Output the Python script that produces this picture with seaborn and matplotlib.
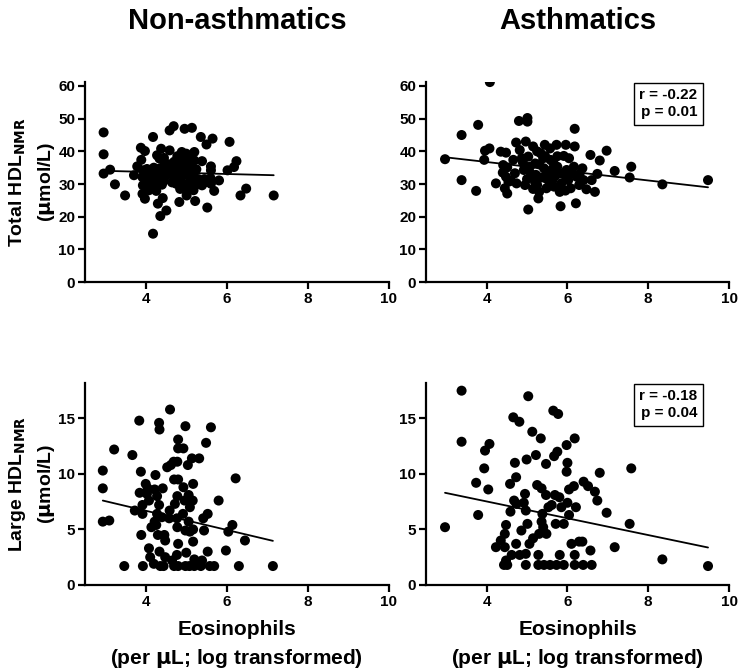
import numpy as np
import pandas as pd
import seaborn as sns
import matplotlib.pyplot as plt
import matplotlib as mpl
mpl.use("Agg")

# --- data ---
# Non-asthmatics, total HDL
non_total_eos = [2.96, 2.96, 2.96, 3.12, 3.24, 3.49, 3.71, 3.79, 3.88, 3.98, 3.89, 3.93, 3.92, 4.03,
                 4.00, 4.06, 3.93, 3.92, 3.98, 4.18, 4.18, 4.30, 4.36, 4.51, 4.42, 4.28, 4.38, 4.34,
                 4.46, 4.16, 4.22, 4.28, 4.14, 4.08, 4.26, 4.34, 4.42, 4.51, 4.59, 4.59, 4.69, 4.63,
                 4.67, 4.75, 4.83, 4.89, 4.90, 4.93, 4.92, 4.87, 4.96, 5.00, 5.01, 4.96, 5.14, 5.00,
                 5.08, 5.12, 5.16, 5.12, 5.08, 5.20, 5.20, 5.20, 5.22, 5.22, 5.18, 5.36, 5.39, 5.39,
                 5.48, 5.50, 5.52, 5.61, 5.61, 5.61, 5.65, 5.69, 5.81, 6.02, 6.07, 6.18, 6.24, 6.34,
                 6.48, 7.16, 4.10, 4.20, 4.25, 4.30, 4.35, 4.40, 4.45, 4.55, 4.60, 4.70, 4.75, 4.80,
                 4.85, 4.95, 5.05, 5.10, 4.85, 4.65, 4.12, 4.22, 5.25, 5.30, 4.98, 4.78, 4.45, 5.45,
                 5.55, 5.60]
non_total_hdl = [45.8, 39.1, 33.2, 34.4, 29.9, 26.5, 32.7, 35.4, 41.1, 40.1, 37.4, 34.2, 32.1, 34.6,
                 32.3, 30.6, 29.6, 27.0, 25.5, 44.4, 14.8, 24.0, 20.2, 21.9, 25.7, 38.8, 40.8, 37.8,
                 36.7, 33.2, 31.1, 29.6, 29.6, 28.1, 27.9, 34.2, 32.1, 34.2, 40.3, 46.4, 47.7, 35.2,
                 33.2, 30.1, 24.5, 39.8, 37.2, 35.2, 32.7, 31.1, 29.6, 28.1, 26.5, 46.9, 47.2, 39.3,
                 37.8, 35.7, 34.2, 32.1, 30.1, 39.8, 37.2, 32.1, 29.6, 24.8, 28.1, 44.4, 37.0, 29.6,
                 30.6, 42.1, 22.8, 30.1, 34.2, 35.4, 43.9, 27.9, 31.1, 34.2, 42.9, 35.2, 37.0, 26.5,
                 28.6, 26.5, 33.5, 35.0, 31.5, 32.5, 34.8, 29.8, 31.0, 33.0, 36.0, 36.8, 33.8, 31.8,
                 35.8, 37.8, 33.5, 31.0, 28.5, 30.5, 31.8, 29.0, 34.5, 31.5, 35.5, 38.5, 38.0, 31.5,
                 31.2, 31.8]

# Asthmatics, total HDL
ast_total_eos = [4.08, 2.97, 3.38, 3.38, 3.79, 3.74, 3.94, 3.96, 4.07, 4.23, 4.35, 4.48, 4.41, 4.51,
                 4.48, 4.45, 4.51, 4.54, 4.66, 4.73, 4.70, 4.74, 4.80, 4.82, 4.87, 4.92, 4.95, 5.01,
                 5.01, 4.97, 5.03, 5.03, 5.07, 5.15, 5.20, 5.22, 5.25, 5.28, 5.30, 5.34, 5.44, 5.40,
                 5.42, 5.47, 5.48, 5.57, 5.58, 5.61, 5.63, 5.67, 5.73, 5.75, 5.80, 5.81, 5.83, 5.85,
                 5.91, 5.96, 5.98, 6.02, 6.04, 6.08, 6.18, 6.18, 6.21, 6.16, 6.23, 6.29, 6.37, 6.40,
                 6.47, 6.57, 6.60, 6.68, 6.74, 6.80, 6.97, 7.17, 7.54, 7.58, 8.35, 9.48, 5.10, 5.20,
                 5.35, 5.50, 5.65, 5.70, 5.30, 5.45, 5.55, 5.90, 5.95, 5.15, 5.00, 4.90, 5.75, 5.25,
                 6.10, 6.30, 4.60, 4.40]
ast_total_hdl = [61.2, 37.6, 45.0, 31.2, 48.1, 27.9, 37.4, 40.2, 40.9, 30.2, 39.9, 39.6, 35.8, 35.1,
                 32.2, 28.7, 27.1, 30.7, 37.4, 42.7, 33.3, 30.2, 49.3, 40.4, 37.9, 34.3, 29.7, 50.2,
                 49.1, 43.0, 38.4, 22.2, 35.3, 41.5, 36.3, 32.8, 29.7, 25.6, 27.6, 39.4, 42.0, 37.9,
                 34.8, 31.7, 28.7, 40.9, 37.4, 34.3, 31.2, 29.2, 42.0, 35.3, 33.3, 27.6, 23.2, 30.2,
                 38.6, 42.0, 34.3, 31.2, 37.9, 28.7, 46.9, 41.5, 24.1, 35.3, 32.2, 29.7, 34.8, 31.2,
                 28.4, 38.9, 31.2, 27.6, 33.1, 37.2, 40.2, 34.0, 32.0, 35.3, 29.9, 31.2, 33.0, 30.5,
                 32.0, 33.5, 36.5, 32.5, 36.0, 38.5, 29.5, 33.0, 28.0, 28.5, 31.5, 36.5, 38.5, 40.0,
                 33.5, 33.0, 31.0, 33.5]

# Non-asthmatics, large HDL
non_large_eos = [2.94, 2.94, 2.94, 3.10, 3.22, 3.47, 3.67, 3.73, 3.84, 3.88, 3.85, 3.92, 3.92, 3.89,
                 3.93, 4.00, 4.05, 4.08, 4.03, 4.08, 4.11, 4.14, 4.20, 4.22, 4.24, 4.28, 4.28, 4.22,
                 4.26, 4.33, 4.34, 4.33, 4.30, 4.34, 4.36, 4.42, 4.40, 4.46, 4.48, 4.48, 4.44, 4.53,
                 4.58, 4.59, 4.62, 4.60, 4.65, 4.69, 4.70, 4.72, 4.70, 4.78, 4.80, 4.80, 4.80, 4.78,
                 4.77, 4.78, 4.80, 4.77, 4.80, 4.93, 4.98, 4.93, 4.96, 4.92, 4.98, 5.00, 4.98, 5.04,
                 5.06, 5.09, 5.06, 5.09, 5.08, 5.14, 5.16, 5.17, 5.17, 5.17, 5.20, 5.20, 5.32, 5.36,
                 5.39, 5.42, 5.44, 5.49, 5.53, 5.53, 5.58, 5.61, 5.69, 5.80, 5.98, 6.04, 6.14, 6.22,
                 6.45, 6.30, 7.14]
non_large_hdl = [10.3, 8.7, 5.7, 5.8, 12.2, 1.7, 11.7, 6.7, 14.8, 10.2, 8.3, 7.2, 6.4, 4.5,
                 1.7, 9.1, 8.7, 7.6, 8.2, 3.3, 2.5, 5.2, 1.9, 8.6, 9.9, 8.0, 6.4, 5.7,
                 5.4, 14.6, 14.0, 7.2, 4.5, 3.0, 1.7, 8.7, 6.1, 4.5, 4.0, 2.5, 1.7, 10.6,
                 6.0, 6.7, 10.8, 15.8, 2.2, 11.1, 9.5, 7.3, 1.7, 11.1, 13.1, 12.3, 9.5, 8.0,
                 6.0, 5.2, 3.7, 2.7, 1.7, 12.3, 14.3, 8.8, 7.6, 6.4, 4.9, 2.9, 1.7, 10.8,
                 8.1, 7.0, 5.7, 4.8, 1.7, 11.4, 7.6, 9.1, 5.0, 3.9, 2.3, 1.7, 11.4, 1.7,
                 2.2, 6.0, 4.9, 12.8, 6.4, 3.0, 1.7, 14.2, 1.7, 7.6, 3.1, 4.8, 5.4, 9.6,
                 4.0, 1.7, 1.7]

# Asthmatics, large HDL
ast_large_eos = [3.38, 3.38, 2.97, 3.74, 3.79, 3.94, 3.96, 4.07, 4.04, 4.23, 4.35, 4.45, 4.48, 4.43,
                 4.48, 4.51, 4.45, 4.58, 4.59, 4.62, 4.66, 4.68, 4.70, 4.73, 4.74, 4.73, 4.81, 4.82,
                 4.86, 4.95, 4.92, 4.97, 4.99, 5.01, 4.97, 4.97, 5.03, 5.06, 5.13, 5.15, 5.22, 5.25,
                 5.30, 5.28, 5.28, 5.34, 5.36, 5.38, 5.36, 5.40, 5.42, 5.47, 5.47, 5.48, 5.53, 5.57,
                 5.61, 5.65, 5.67, 5.69, 5.71, 5.77, 5.75, 5.80, 5.81, 5.73, 5.85, 5.91, 5.91, 5.98,
                 6.00, 5.98, 6.04, 6.00, 6.04, 6.10, 6.16, 6.18, 6.21, 6.18, 6.18, 6.29, 6.37, 6.39,
                 6.40, 6.51, 6.57, 6.60, 6.68, 6.74, 6.80, 6.97, 7.17, 7.54, 7.58, 8.35, 9.48]
ast_large_hdl = [17.5, 12.9, 5.2, 9.2, 6.3, 10.5, 12.1, 12.7, 8.6, 3.4, 4.0, 4.6, 5.4, 1.8,
                 2.2, 1.8, 3.4, 9.1, 6.6, 2.7, 15.1, 7.6, 11.0, 9.7, 7.3, 3.7, 14.7, 2.7,
                 4.9, 8.2, 7.4, 6.7, 11.3, 5.5, 2.8, 1.8, 17.0, 3.7, 13.8, 4.2, 11.7, 9.0,
                 4.6, 2.7, 1.8, 13.2, 8.7, 6.4, 5.7, 5.2, 1.8, 10.9, 8.1, 4.6, 7.0, 1.8,
                 7.2, 15.7, 11.6, 8.1, 5.5, 15.4, 12.0, 7.9, 2.7, 1.8, 7.0, 5.5, 1.8, 12.6,
                 11.0, 10.2, 8.6, 7.4, 6.3, 3.7, 8.9, 13.2, 7.0, 2.7, 1.8, 3.9, 3.9, 1.8,
                 9.3, 8.9, 3.1, 1.8, 8.4, 7.6, 10.1, 6.5, 3.4, 5.5, 10.5, 2.3, 1.7]

# regression lines as drawn (value at lowest and highest eosinophil count)
non_total_fit = [34.05, 32.7]
ast_total_fit = [38.2, 29.0]
non_large_fit = [7.6, 3.97]
ast_large_fit = [8.3, 3.37]

ast_total_stats = "r = -0.22\np = 0.01"
ast_large_stats = "r = -0.18\np = 0.04"

# --- style ---
sns.set_style("ticks")
plt.rcParams['font.family'] = ['Liberation Sans', 'DejaVu Sans']
plt.rcParams['font.weight'] = 'bold'
plt.rcParams['mathtext.default'] = 'bf'
plt.rcParams['axes.linewidth'] = 1.6
for key in ['text.color', 'axes.labelcolor', 'xtick.color', 'ytick.color', 'axes.edgecolor']:
    plt.rcParams[key] = 'black'

fig = plt.figure(figsize=(7.39, 6.7), dpi=100)
ax_tl = fig.add_axes([0.115, 0.579, 0.411, 0.2985])
ax_tr = fig.add_axes([0.5765, 0.579, 0.41, 0.2985])
ax_bl = fig.add_axes([0.115, 0.127, 0.411, 0.3015])
ax_br = fig.add_axes([0.5765, 0.127, 0.41, 0.3015])

panels = [
    (ax_tl, non_total_eos, non_total_hdl, non_total_fit, (0, 61.2), [0, 10, 20, 30, 40, 50, 60], None),
    (ax_tr, ast_total_eos, ast_total_hdl, ast_total_fit, (0, 61.2), [0, 10, 20, 30, 40, 50, 60], ast_total_stats),
    (ax_bl, non_large_eos, non_large_hdl, non_large_fit, (0, 18.2), [0, 5, 10, 15], None),
    (ax_br, ast_large_eos, ast_large_hdl, ast_large_fit, (0, 18.2), [0, 5, 10, 15], ast_large_stats),
]

for ax, xs, ys, fit, ylim, yticks, stats in panels:
    df = pd.DataFrame({'eos': xs, 'hdl': ys})
    sns.scatterplot(data=df, x='eos', y='hdl', ax=ax, color='black', s=52,
                    edgecolor='none', linewidth=0, zorder=3)
    fit_df = pd.DataFrame({'eos': [min(xs), max(xs)], 'hdl': fit})
    sns.lineplot(data=fit_df, x='eos', y='hdl', ax=ax, color='black', linewidth=1.3, zorder=4)
    ax.set_xlim(2.5, 10)
    ax.set_ylim(*ylim)
    ax.set_xticks([4, 6, 8, 10])
    ax.set_yticks(yticks)
    ax.tick_params(axis='both', labelsize=11, width=1.6, length=5, pad=2)
    for lab in ax.get_xticklabels() + ax.get_yticklabels():
        lab.set_fontweight('bold')
    ax.set_xlabel('')
    ax.set_ylabel('')
    sns.despine(ax=ax)
    if stats:
        ax.text(0.895, 0.97, stats, transform=ax.transAxes, ha='right', va='top',
                fontsize=11, fontweight='bold', linespacing=1.3,
                bbox=dict(boxstyle='square,pad=0.35', fc='white', ec='black', lw=1))

ax_tl.set_title('Non-asthmatics', fontsize=21, fontweight='bold', pad=38)
ax_tr.set_title('Asthmatics', fontsize=21, fontweight='bold', pad=38)
ax_tl.set_ylabel('Total HDL$_{NMR}$\n($\\mu$mol/L)', fontsize=14, fontweight='bold',
                 labelpad=1, linespacing=1.5)
ax_bl.set_ylabel('Large HDL$_{NMR}$\n($\\mu$mol/L)', fontsize=14, fontweight='bold',
                 labelpad=1, linespacing=1.5)
for ax in (ax_bl, ax_br):
    ax.set_xlabel('Eosinophils\n(per $\\mu$L; log transformed)', fontsize=15,
                  fontweight='bold', labelpad=8, linespacing=1.5)

fig.savefig('out.png', dpi=100)
